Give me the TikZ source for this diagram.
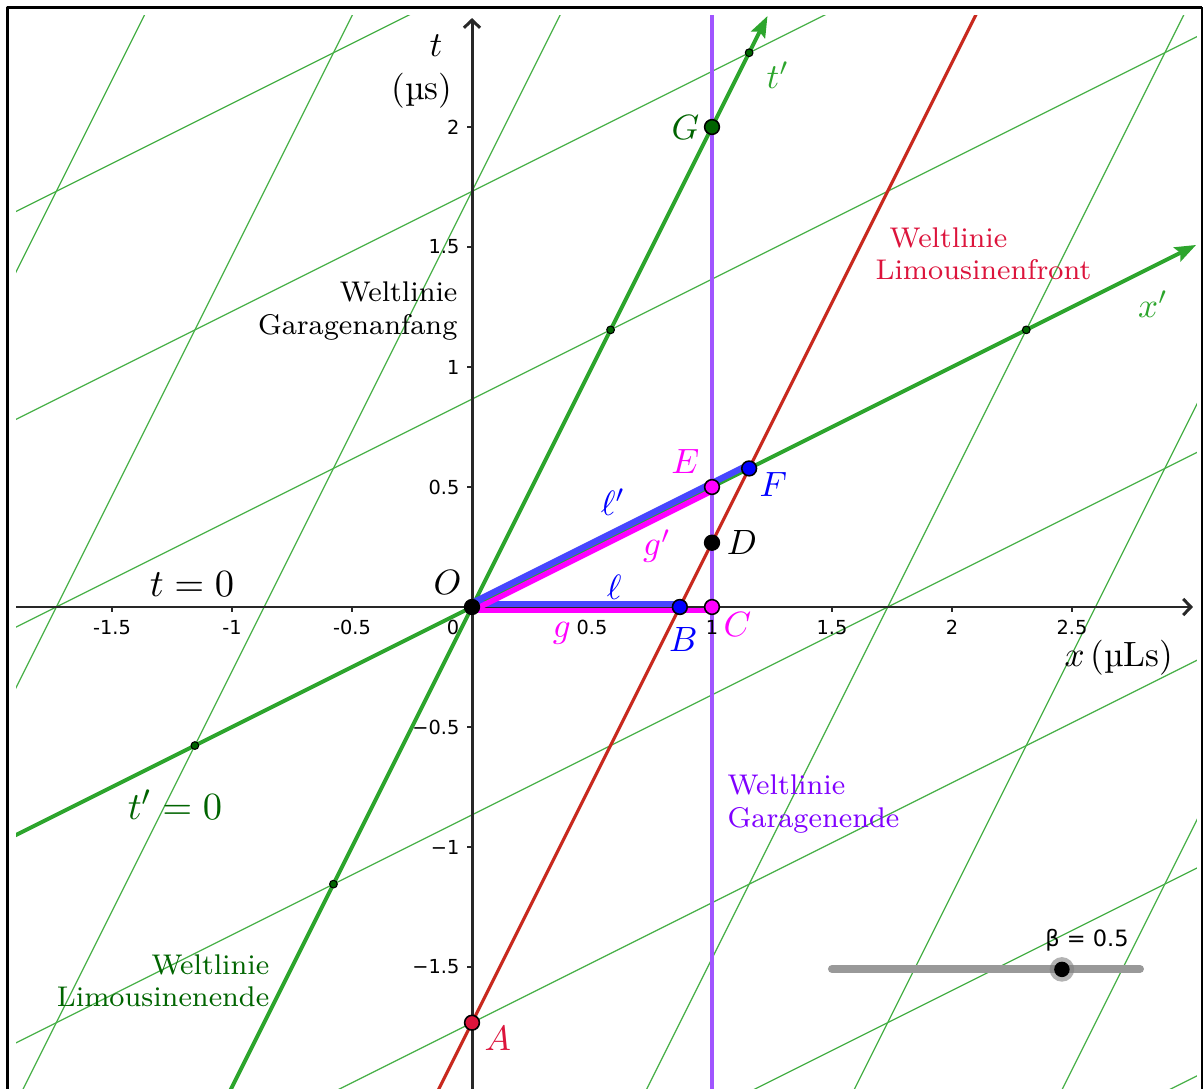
\documentclass[tikz,border=0pt]{standalone}
\usepackage{fontspec}
\newfontfamily\ggbfont{DejaVu Sans}
\usetikzlibrary{arrows.meta,positioning,calc}

\definecolor{gitterGruen}{RGB}{70,175,70}
\definecolor{achsGruen}{RGB}{45,165,45}
\definecolor{dunkelGruen}{RGB}{0,100,0}
\definecolor{limoRot}{RGB}{200,40,30}
\definecolor{karmin}{RGB}{220,20,60}
\definecolor{garagenLila}{RGB}{160,85,255}
\definecolor{lilaText}{RGB}{127,0,255}
\definecolor{segBlau}{RGB}{70,70,255}
\definecolor{ggbBlau}{RGB}{0,0,255}
\definecolor{ggbMagenta}{RGB}{255,0,255}
\definecolor{achsSchwarz}{RGB}{40,40,40}

\begin{document}
\begin{tikzpicture}[x=2.4cm, y=2.4cm, line join=round, line cap=round,
	gitter/.style={gitterGruen, line width=0.35pt},
	achse/.style={achsSchwarz, line width=0.85pt},
	gachse/.style={achsGruen, line width=1.1pt},
	punkt/.style={circle, draw=black, line width=0.45pt, inner sep=0pt, minimum size=4.2pt},
	kpunkt/.style={circle, draw=black, fill=dunkelGruen, line width=0.3pt, inner sep=0pt, minimum size=2.2pt},
	bez/.style={font=\fontsize{10}{12}\selectfont, inner sep=1pt},
	welt/.style={font=\fontsize{8.1}{9.2}\selectfont, inner sep=0pt},
	zahl/.style={font=\ggbfont\fontsize{5.5}{6.5}\selectfont, inner sep=0pt}]
	
	\useasboundingbox (-1.9667,-2.0042) rectangle (3.05,2.5292);
	
	% ==========================================
	% RAHMEN
	% ==========================================
	\draw[line width=0.85pt, line cap=butt] (-1.9354,-2.1) -- (-1.9354,2.498) -- (3.0417,2.498);
	\draw[line width=0.4pt, line cap=butt] (3.0417,2.498) -- (3.0417,-2.1);
	
	\begin{scope}
		\clip (-1.9,-2.1) rectangle (3.02,2.4625);
		
		% 1. Gitter des bewegten Systems (beta = 0.5, gamma = 1.1547)
		% Linien x' = const
		\foreach \k in {-3,-2,-1,1,2,3,4} {
			\draw[gitter] ({0.8660*\k-1.05},-2.1) -- ({0.8660*\k+1.3},2.6);
		}
		% Linien t' = const
		\foreach \k in {-4,-3,-2,-1,1,2,3} {
			\draw[gitter] (-2,{0.8660*\k-1}) -- (3.1,{0.8660*\k+1.55});
		}
		
		% Punkte des Diagramms
		\coordinate (O) at (0,0);
		\coordinate (A) at (0,-1.7321);
		\coordinate (B) at (0.8660,0);
		\coordinate (C) at (1,0);
		\coordinate (D) at (1,0.2679);
		\coordinate (E) at (1,0.5);
		\coordinate (F) at (1.1547,0.5774);
		\coordinate (G) at (1,2);
		
		% 2. Weltlinien Garagenende und Limousinenfront
		\draw[garagenLila, line width=0.9pt] (1,-2.1) -- (1,2.6);
		\draw[limoRot, line width=0.9pt] (-0.184,-2.1) -- (2.166,2.6);
		
		% 3. Achsen t, x
		\draw[achse, -{Straight Barb[length=2.2pt,width=4.6pt]}] (-1.9,0) -- (3.004,0);
		\draw[achse, -{Straight Barb[length=2.2pt,width=4.6pt]}] (0,-2.1) -- (0,2.454);
		\foreach \x in {-1.5,-1,-0.5,0.5,1,1.5,2,2.5} {
			\draw[achse, line width=0.5pt, line cap=butt] (\x,0) -- (\x,-0.02);
		}
		\foreach \y in {-1.5,-1,-0.5,0.5,1,1.5,2} {
			\draw[achse, line width=0.5pt, line cap=butt] (0,\y) -- (-0.02,\y);
		}
		
		% 4. Achsen t', x'
		\draw[gachse, -{Stealth[length=6pt,width=4.4pt,inset=1pt]}] (-1.05,-2.1) -- (1.2312,2.4625);
		\draw[gachse, -{Stealth[length=6pt,width=4.4pt,inset=1pt]}] (-1.95,-0.975) -- (3.017,1.5085);
		
		% 5. Strecken g, l, g', l'
		\draw[ggbMagenta, line width=1.6pt, line cap=butt] ($(O)+(0pt,-1pt)$) -- ($(C)+(0pt,-1pt)$);
		\draw[segBlau, line width=1.8pt, line cap=butt] ($(O)+(0pt,0.9pt)$) -- ($(B)+(0pt,0.9pt)$);
		\draw[ggbMagenta, line width=1.6pt, line cap=butt] ($(O)+(0.45pt,-0.9pt)$) -- ($(E)+(0.45pt,-0.9pt)$);
		\draw[segBlau, line width=1.8pt, line cap=butt] ($(O)+(-0.45pt,0.9pt)$) -- ($(F)+(-0.45pt,0.9pt)$);
		
		% 6. Gitterpunkte auf t' und x'
		\foreach \k in {-1,1,2} {
			\node[kpunkt] (tp\k) at ({0.57735*\k},{1.1547*\k}) {};
		}
		\foreach \k in {-1,2} {
			\node[kpunkt] (xp\k) at ({1.1547*\k},{0.57735*\k}) {};
		}
	\end{scope}
	
	% 7. Punkte mit Namen
	\foreach \p/\c in {O/black, A/karmin, B/ggbBlau, C/ggbMagenta, D/black, E/ggbMagenta, F/ggbBlau, G/dunkelGruen} {
		\node[punkt, fill=\c] (p\p) at (\p) {};
	}
	\node[bez, above left=2.4pt and 1.8pt of O] (lO) {$O$};
	\node[bez, karmin, below right=0pt and 2.4pt of A] (lA) {$A$};
	\node[bez, ggbBlau, below=4.7pt of B, xshift=1pt] (lB) {$B$};
	\node[bez, ggbMagenta, below right=0.4pt and 2.1pt of C] (lC) {$C$};
	\node[bez, right=3pt of D] (lD) {$D$};
	\node[bez, ggbMagenta, above left=2.7pt and 2.4pt of E] (lE) {$E$};
	\node[bez, ggbBlau, below right=0pt and 1.8pt of F] (lF) {$F$};
	\node[bez, dunkelGruen, left=2.4pt of G] (lG) {$G$};
	
	% Bezeichnung der Strecken
	\node[bez, ggbBlau] (ll) at (0.592,0.083) {$\ell$};
	\node[bez, ggbMagenta] (lg) at (0.375,-0.108) {$g$};
	\node[bez, ggbBlau] (llp) at (0.5875,0.4375) {$\ell'$};
	\node[bez, ggbMagenta] (lgp) at (0.771,0.254) {$g'$};
	
	% 8. Achsenbeschriftung
	\node[bez] (lt) at (-0.15,2.3375) {$t$};
	\node[bez] (ltein) at (-0.208,2.15) {(µs)};
	\node[bez] (lx) at (2.696,-0.2125) {$x$\,(µLs)};
	\node[bez, achsGruen] (ltp) at (1.275,2.217) {$t'$};
	\node[bez, achsGruen] (lxp) at (2.8375,1.2625) {$x'$};
	\node[bez, font=\fontsize{10.5}{12}\selectfont] (lt0) at (-1.1667,0.096) {$t=0$};
	\node[bez, dunkelGruen, font=\fontsize{11}{13}\selectfont] (ltp0) at (-1.2375,-0.825) {$t'=0$};
	
	\foreach \x in {-1.5,-1,-0.5,0.5,1,1.5,2,2.5} {
		\node[zahl] at (\x,-0.085) {\x};
	}
	\node[zahl] (n0) at (-0.079,-0.085) {0};
	\foreach \y/\s in {2/2, 1.5/1.5, 1/1, 0.5/0.5, -0.5/−0.5, -1/−1, -1.5/−1.5} {
		\node[zahl, anchor=east] at (-0.05,\y) {\s};
	}
	
	% 9. Weltlinien
	\node[welt, align=right, anchor=east] (wGa) at (-0.058,1.233) {Weltlinie\\Garagenanfang};
	\node[welt, karmin, align=left, anchor=west] (wLf) at (1.679,1.471) {\hspace{4pt}Weltlinie\\Limousinenfront};
	\node[welt, lilaText, align=left, anchor=west] (wGe) at (1.0625,-0.821) {Weltlinie\\Garagenende};
	\node[welt, dunkelGruen, align=right, anchor=east] (wLe) at (-0.842,-1.558) {Weltlinie\hspace{-6pt}\\Limousinenende\hspace{4pt}};
	
	% 10. Schieberegler beta
	\coordinate (sL) at (1.5,-1.508);
	\coordinate (sR) at (2.783,-1.508);
	\draw[gray!80, line width=2.3pt] (sL) -- (sR);
	\node[circle, fill=gray, opacity=0.6, inner sep=0pt, minimum size=7pt] (knopfhalo) at (2.458,-1.51) {};
	\node[circle, fill=black, inner sep=0pt, minimum size=4.4pt] (knopf) at (2.458,-1.51) {};
	\node[font=\ggbfont\fontsize{6.4}{7}\selectfont, inner sep=0pt] (lbeta) at (2.5625,-1.3875) {β = 0.5};
\end{tikzpicture}
\end{document}
